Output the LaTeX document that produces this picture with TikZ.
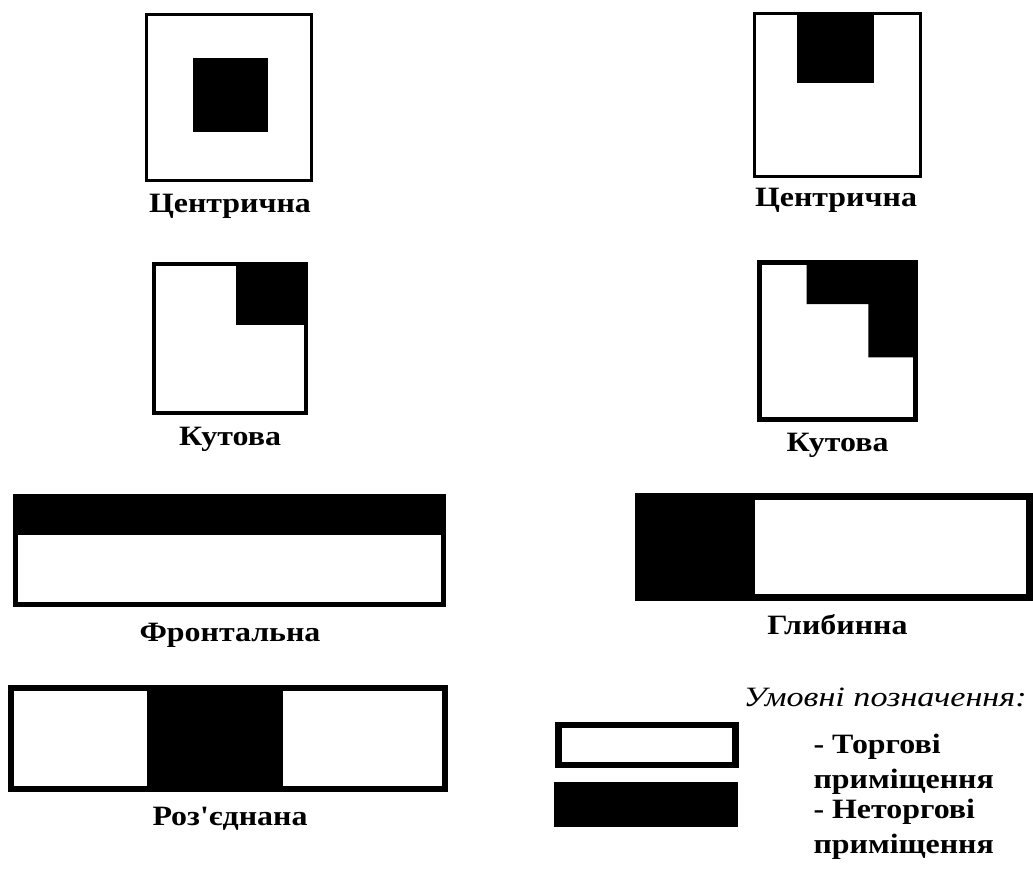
\documentclass[tikz,border=0pt]{standalone}
\usepackage{fontspec}
\setmainfont[Ligatures=TeXOff]{Liberation Serif}
\newcommand{\bw}[1]{\scalebox{1.14}[1]{#1}}
\newcommand{\iw}[1]{\scalebox{1.22}[1]{#1}}
\begin{document}
\begin{tikzpicture}[x=1pt,y=-1pt,
  lbl/.style={anchor=base,inner sep=0pt,font=\fontsize{28}{34}\selectfont\bfseries},
  leg/.style={anchor=base west,inner sep=0pt,font=\fontsize{28}{34}\selectfont\bfseries},
  legtitle/.style={anchor=base west,inner sep=0pt,font=\fontsize{28}{34}\selectfont\itshape},
  wall/.style={draw=black,fill=none,line join=miter}]
\useasboundingbox[fill=white] (0,0) rectangle (1033,869);
% A: centric
\fill[black] (192.7,58) rectangle (267.7,132);
\draw[wall,line width=3pt] (146.5,14.5) rectangle (311.2,180.5);
\node[lbl] (la) at (230,213) {\bw{Центрична}};
% B: centric (front)
\fill[black] (797,11.7) rectangle (874,83);
\draw[wall,line width=3pt] (754.2,13.2) rectangle (920.5,176.2);
\node[lbl] (lb) at (836,207) {\bw{Центрична}};
% C: corner
\fill[black] (235.7,261.7) rectangle (308,325);
\draw[wall,line width=4pt] (153.7,263.7) rectangle (306,413);
\node[lbl] (lc) at (230,445) {\bw{Кутова}};
% D: corner stair
\fill[black] (806.7,260) -- (917.7,260) -- (917.7,357.3) -- (868.3,357.3) -- (868.3,304) -- (806.7,304) -- cycle;
\draw[wall,line width=5pt] (759.2,262.5) rectangle (915.2,419.5);
\node[lbl] (ld) at (837.5,451.7) {\bw{Кутова}};
% E: frontal
\fill[black] (12.7,494) rectangle (446,535);
\draw[wall,line width=5pt] (15.2,496.5) rectangle (443.5,604.2);
\node[lbl] (le) at (230,641.7) {\bw{Фронтальна}};
% F: deep
\fill[black] (635,492.7) rectangle (755,600.7);
\draw[wall,line width=7pt] (638.5,496.2) rectangle (1029.5,597.2);
\node[lbl] (lf) at (837.5,634) {\bw{Глибинна}};
% G: separated
\fill[black] (146.7,685) rectangle (283.3,791.7);
\draw[wall,line width=6pt] (11.3,688) rectangle (444.7,788.7);
\node[lbl] (lg) at (230,825) {\bw{Роз'єднана}};
% legend
\draw[wall,line width=6.7pt] (558.35,725.05) rectangle (735.65,764.95);
\fill[black] (554,781.7) rectangle (737.7,826.7);
\node[legtitle] (lt) at (743.3,706.7) {\iw{Умовні позначення:}};
\node[leg] (l1) at (813.3,753.3) {\bw{- Торгові}};
\node[leg] (l2) at (813.3,788) {\bw{приміщення}};
\node[leg] (l3) at (813.3,818) {\bw{- Неторгові}};
\node[leg] (l4) at (813.3,853.3) {\bw{приміщення}};
\end{tikzpicture}
\end{document}
